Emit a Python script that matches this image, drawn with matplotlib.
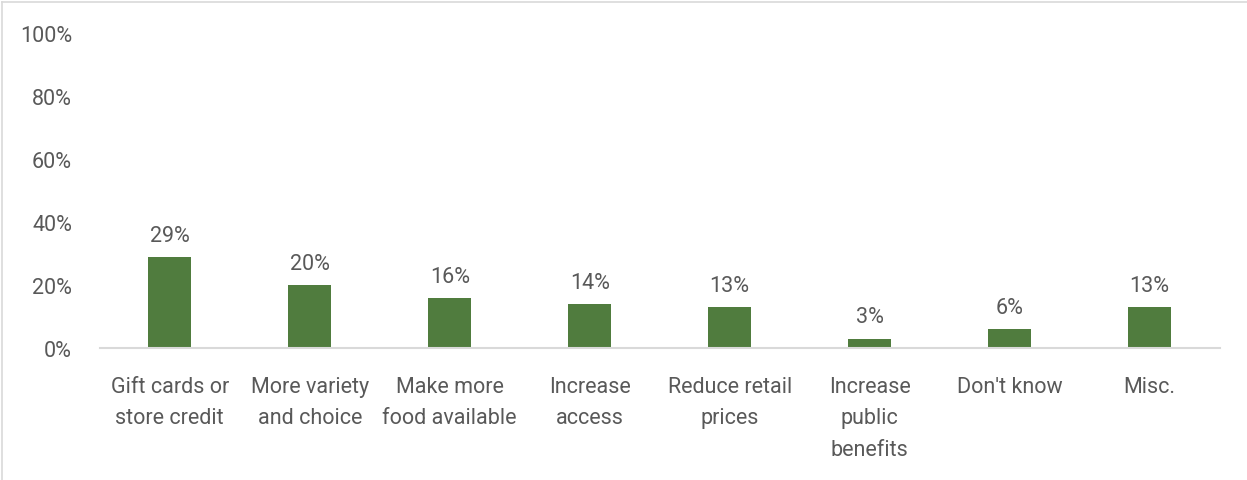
import matplotlib.pyplot as plt
from matplotlib.lines import Line2D

categories = ["Gift cards or\nstore credit", "More variety\nand choice", "Make more\nfood available",
              "Increase\naccess", "Reduce retail\nprices", "Increase\npublic\nbenefits",
              "Don't know", "Misc."]
values = [29, 20, 16, 14, 13, 3, 6, 13]
yticks = [0, 20, 40, 60, 80, 100]

plt.rcParams['font.family'] = ['Roboto', 'DejaVu Sans']
text_color = '#595959'
bar_color = '#507C3E'
fs = 15.5

fig = plt.figure(figsize=(12.47, 4.81), dpi=100)
ax = fig.add_axes([0.080, 0.2744, 0.898, 0.6549])

x = list(range(len(categories)))
bars = ax.bar(x, values, width=0.31, color=bar_color)
for xi, v in zip(x, values):
    ax.annotate(f"{v}%", (xi, v), xytext=(0, 8), textcoords='offset points',
                ha='center', va='bottom', fontsize=fs, color=text_color)

ax.set_ylim(0, 100)
ax.set_xlim(-0.5, len(categories) - 0.5)
ax.set_yticks(yticks)
ax.set_yticklabels([f"{t}%" for t in yticks])
ax.set_xticks(x)
ax.set_xticklabels(categories, linespacing=1.65)
ax.tick_params(axis='y', length=0, pad=20, labelsize=fs, labelcolor=text_color)
ax.tick_params(axis='x', length=0, pad=20, labelsize=fs, labelcolor=text_color)
for side in ['top', 'right', 'left']:
    ax.spines[side].set_visible(False)
ax.spines['bottom'].set_color('#d9d9d9')
ax.spines['bottom'].set_linewidth(1.5)

# light frame around the chart area
fig.add_artist(Line2D([0.002, 0.002], [0, 0.994], color='#d9d9d9', lw=1.2, transform=fig.transFigure))
fig.add_artist(Line2D([0.002, 1], [0.994, 0.994], color='#d9d9d9', lw=1.2, transform=fig.transFigure))

fig.savefig('out.png', dpi=100)
